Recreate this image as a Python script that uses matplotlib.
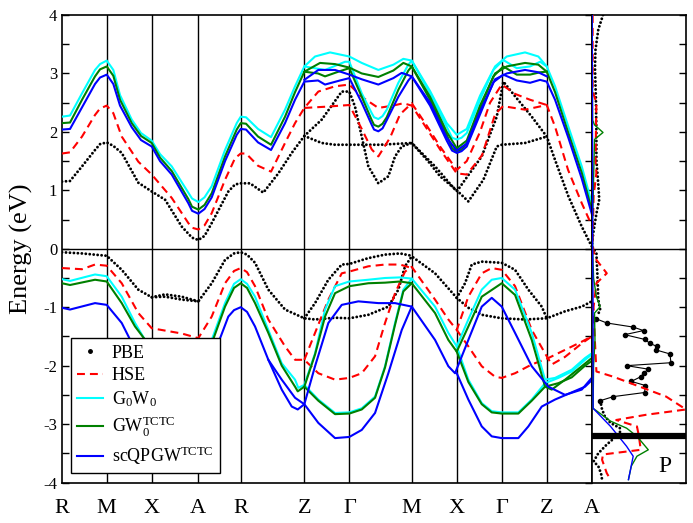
import numpy as np
import matplotlib
matplotlib.use('Agg')
import matplotlib.pyplot as plt
from matplotlib.lines import Line2D
from matplotlib.ticker import MultipleLocator

plt.rcParams['font.family'] = ['Liberation Serif', 'DejaVu Serif']
plt.rcParams['mathtext.fontset'] = 'custom'
plt.rcParams['mathtext.rm'] = 'Liberation Serif'
plt.rcParams['mathtext.it'] = 'Liberation Serif:italic'
plt.rcParams['axes.unicode_minus'] = False

### High-symmetry path (k-distance, arbitrary units)
kpts = [0, 44.7, 89.7, 136.3, 178.7, 242.3, 287.3, 349.7, 394.7, 439.7, 484.7, 529.7]
klabels = ['R', 'M', 'X', 'A', 'R', 'Z', '\u0393', 'M', 'X', '\u0393', 'Z', 'A']

### PBE bands (k, E)
pbe_c1 = [(0,1.15),(8,1.16),(20,1.41),(33,1.69),(38,1.79),(44.7,1.82),(51.3,1.76),(59.7,1.64),(76.3,1.13),
          (89.7,0.98),(103,0.84),(119.7,0.38),(130,0.19),(136.3,0.15),(142.5,0.22),(149.7,0.44),(166.3,0.98),
          (173,1.10),(178.7,1.12),(188,1.12),(201.3,0.96),(216.3,1.29),(229.7,1.64),(242.3,1.93),(259.7,2.21),
          (279.7,2.69),(287.3,2.69),(293,2.43),(299.7,1.92),(306.3,1.41),(316.3,1.12),(326.3,1.24),(333,1.58),
          (339.7,1.75),(349.7,1.81),(373,1.41),(394.7,0.98),(408,1.3),(419.7,1.58),(434.7,2.26),(441.3,2.86),
          (453,2.61),(469.7,2.26),(484.7,1.92),(493,1.52),(506.3,0.9),(519.7,0.38),(529.7,0.04)]
pbe_c2 = [(242.3,1.93),(259.7,1.81),(273,1.78),(287.3,1.78),(318,1.78),(349.7,1.81),(366,1.5),(378,1.24),
          (394.7,1.0),(406.3,0.81),(421.3,1.18),(434.7,1.75),(439.7,1.78),(463,1.81),(484.7,1.92)]
pbe_v1 = [(0,-0.06),(20,-0.08),(44.7,-0.12),(59.7,-0.36),(76.3,-0.70),(89.7,-0.83),(103,-0.82),(119.7,-0.87),
          (136.3,-0.90),(149.7,-0.59),(163,-0.19),(172,-0.08),(178.7,-0.06),(185,-0.10),(193,-0.24),(206.3,-0.70),
          (223,-1.04),(242.3,-1.19),(253,-1.21),(273,-1.18),(287.3,-1.19),(306.3,-1.13),(326.3,-0.99),(336.3,-0.70),
          (343,-0.30),(349.7,-0.13),(373,-0.42),(394.7,-0.84),(406.3,-1.01),(419.7,-1.13),(439.7,-1.19),(463,-1.21),
          (484.7,-1.19),(503,-1.07),(519.7,-0.99),(529.7,-0.90)]
pbe_v2 = [(242.3,-1.19),(253,-0.93),(266.3,-0.53),(279.7,-0.27),(287.3,-0.26),(306.3,-0.16),(323,-0.10),
          (338,-0.08),(349.7,-0.12)]
pbe_v3 = [(394.7,-0.84),(403,-0.59),(409.7,-0.27),(419.7,-0.22),(439.7,-0.24),(453,-0.36),(466.3,-0.70),
          (479.7,-0.99),(484.7,-1.19)]
pbe_v4 = [(89.7,-0.83),(103,-0.78),(119.7,-0.82),(136.3,-0.90)]

### HSE bands
hse_c1 = [(0,1.63),(8,1.65),(20,1.92),(33,2.29),(38,2.40),(44.7,2.45),(51.3,2.32),(59.7,1.92),(76.3,1.49),
          (89.7,1.27),(109.7,0.87),(126.3,0.44),(130,0.36),(136.3,0.33),(142.5,0.40),(149.7,0.61),(163,1.18),
          (173,1.55),(178.7,1.63),(184,1.63),(196,1.42),(209,1.32),(223,1.81),(233,2.15),(242.3,2.41),(256.3,2.69),
          (273,2.78),(287.3,2.81),(299.7,2.6),(316.3,2.41),(331,2.45),(341.3,2.49),(349.7,2.45),(365,2.05),
          (378,1.7),(394.7,1.29),(404.7,1.27),(420,1.6),(433,2.3),(441,2.44),(463,2.38),(484.7,2.46),(493,2.09),
          (506,1.35),(519.7,0.78),(529.7,0.4)]
hse_c2 = [(242.3,2.41),(263,2.43),(287.3,2.46),(299.7,2.05),(309.7,1.7),(316.3,1.58),(328,1.9),(338,2.3),
          (349.7,2.49),(365,2.1),(378,1.75),(394.7,1.35),(404.7,1.5),(418,2.0),(428,2.5),(439.7,2.81),(453,2.65),
          (468,2.55),(484.7,2.46)]
hse_v1 = [(0,-0.33),(20,-0.35),(33,-0.27),(44.7,-0.29),(59.7,-0.59),(76.3,-1.10),(89.7,-1.36),(103,-1.40),
          (119.7,-1.45),(136.3,-1.53),(149.7,-1.16),(163,-0.59),(172,-0.38),(178.7,-0.33),(185,-0.40),(193,-0.64),
          (206.3,-1.21),(223,-1.67),(233,-1.90),(242.3,-1.90),(256.3,-2.13),(273,-2.24),(287.3,-2.21),(299.7,-2.13),
          (313,-1.84),(323,-1.27),(333,-0.76),(343,-0.39),(349.7,-0.31),(373,-0.87),(386.3,-1.21),(394.7,-1.39),
          (406.3,-0.82),(419.7,-0.42),(429.7,-0.33),(439.7,-0.36),(453,-0.64),(469.7,-1.39),(484.7,-1.84),
          (489.7,-1.98),(503,-1.85),(519.7,-1.62),(529.7,-1.50)]
hse_v2 = [(242.3,-1.90),(253,-1.44),(266.3,-0.87),(279.7,-0.42),(287.3,-0.39),(306.3,-0.30),(323,-0.27),
          (338,-0.27),(349.7,-0.33)]
hse_v3 = [(394.7,-1.39),(406.3,-1.67),(419.7,-2.01),(433,-2.19),(439.7,-2.21),(453,-2.13),(469.7,-1.98),
          (486.3,-1.87),(503,-1.73),(519.7,-1.59),(529.7,-1.50)]

### G0W0 bands
g0w0_c1 = [(0,2.26),(8,2.28),(20,2.66),(33,3.06),(38,3.16),(44.7,3.22),(51.3,3.06),(58,2.63),(69.7,2.21),(79,1.98),
           (89.7,1.85),(98,1.62),(109.7,1.41),(126.3,0.96),(130,0.86),(136.3,0.80),(142.5,0.88),(149.7,1.07),
           (163,1.69),(174.7,2.15),(178.7,2.26),(184,2.25),(196,2.05),(209,1.91),(223,2.38),(233,2.78),(242.3,3.12),
           (263,3.06),(283,3.2),(287.3,3.2),(299.7,2.66),(309.7,2.32),(312,2.25),(316.3,2.22),(320.5,2.27),
           (324.7,2.38),(336.3,2.84),(346.3,3.15),(349.7,3.22),(368,2.66),(384.7,2.09),(390,1.9),(394.7,1.87),
           (399.5,1.9),(404.7,1.98),(418,2.55),(431.3,3.06),(441.3,3.23),(454.7,3.09),(468,3.12),(478,3.2),
           (484.7,3.12),(493,2.78),(506.3,2.09),(519.7,1.41),(529.7,0.78)]
g0w0_c2 = [(242.3,3.12),(253,3.29),(268,3.36),(287.3,3.29),(299.7,3.18),(316.3,3.06),(331.3,3.15),(341.3,3.25),
           (349.7,3.22),(368,2.70),(384.7,2.15),(394.7,1.95),(404.7,2.05),(418,2.62),(433,3.12),(444.7,3.29),
           (463,3.36),(476.3,3.29),(484.7,3.12)]
g0w0_v1 = [(0,-0.52),(8,-0.55),(33,-0.44),(44.7,-0.47),(59.7,-0.82),(73,-1.27),(83,-1.56),(95,-1.85),(115,-2.0),
           (126.3,-2.05),(136.3,-1.85),(141,-1.67),(149.7,-1.56),(163,-0.93),(172,-0.60),(178.7,-0.52),(185,-0.60),
           (193,-0.82),(206.3,-1.39),(219.7,-1.96),(233,-2.24),(236.3,-2.38),(242.3,-2.33),(253,-1.79),(263,-1.04),
           (273,-0.64),(287.3,-0.56),(306.3,-0.53),(323,-0.50),(338,-0.49),(349.7,-0.51),(373,-0.99),(386.3,-1.44),
           (394.7,-1.67),(406.3,-1.21),(419.7,-0.70),(429.7,-0.53),(439.7,-0.50),(453,-0.70),(469.7,-1.44),
           (483,-2.24),(493,-2.21),(509.7,-2.07),(523,-1.87),(529.7,-1.79)]
g0w0_v2 = [(242.3,-2.33),(256.3,-2.58),(273,-2.81),(287.3,-2.80),(299.7,-2.73),(313,-2.53),(323,-2.01),
           (333,-1.27),(341.3,-0.70),(349.7,-0.51)]
g0w0_v3 = [(394.7,-1.67),(406.3,-2.24),(419.7,-2.64),(429.7,-2.78),(439.7,-2.80),(456.3,-2.80),(469.7,-2.58),
           (483,-2.30),(496.3,-2.21),(509.7,-2.10),(523,-1.90),(529.7,-1.81)]

### GW0(TCTC) bands
gw0_c1 = [(0,2.15),(8,2.16),(20,2.55),(33,2.95),(38,3.07),(44.7,3.12),(51.3,2.96),(58,2.55),(69.7,2.15),(79,1.93),
          (89.7,1.81),(98,1.56),(109.7,1.33),(126.3,0.85),(130,0.72),(136.3,0.67),(142.5,0.75),(149.7,0.95),
          (163,1.58),(174.7,2.04),(178.7,2.15),(184,2.14),(196,1.92),(209,1.78),(223,2.26),(233,2.68),(242.3,3.03),
          (256,3.0),(263,2.95),(278,3.04),(287.3,3.09),(299.7,2.6),(309.7,2.2),(312,2.12),(316.3,2.09),(320.5,2.14),
          (324.7,2.25),(336.3,2.72),(346.3,3.05),(349.7,3.12),(368,2.55),(384.7,1.95),(390,1.72),(394.7,1.66),
          (399.5,1.7),(404.7,1.8),(418,2.4),(431.3,2.95),(441.3,3.12),(454.7,2.98),(468,2.98),(478,3.02),
          (484.7,3.03),(493,2.68),(506.3,1.98),(519.7,1.3),(529.7,0.67)]
gw0_c2 = [(242.3,3.03),(258,3.18),(273,3.16),(287.3,3.1),(299.7,3.0),(316.3,2.94),(331.3,3.05),(341.3,3.18),
          (349.7,3.12),(368,2.6),(384.7,2.0),(394.7,1.72),(404.7,1.85),(418,2.45),(433,3.0),(444.7,3.12),
          (463,3.18),(476.3,3.15),(484.7,3.03)]
gw0_v1 = [(0,-0.59),(8,-0.62),(33,-0.53),(44.7,-0.56),(59.7,-0.93),(73,-1.33),(85,-1.6),(97,-1.9),(115,-2.1),
          (126.3,-2.15),(136.3,-1.95),(141,-1.72),(149.7,-1.62),(163,-0.99),(172,-0.67),(178.7,-0.59),(185,-0.67),
          (193,-0.93),(206.3,-1.44),(219.7,-2.0),(233,-2.36),(235.7,-2.44),(242.3,-2.36),(253,-1.81),(263,-1.16),
          (273,-0.76),(287.3,-0.64),(306.3,-0.59),(323,-0.58),(338,-0.56),(349.7,-0.59),(373,-1.10),(386.3,-1.56),
          (394.7,-1.76),(406.3,-1.33),(419.7,-0.82),(439.7,-0.59),(453,-0.79),(469.7,-1.56),(483,-2.36),
          (489.7,-2.41),(503,-2.24),(519.7,-2.01),(529.7,-1.87)]
gw0_v2 = [(242.3,-2.36),(256.3,-2.6),(273,-2.83),(287.3,-2.82),(299.7,-2.75),(313,-2.55),(323,-2.03),
          (333,-1.3),(341.3,-0.73),(349.7,-0.59)]
gw0_v3 = [(394.7,-1.76),(406.3,-2.28),(419.7,-2.66),(429.7,-2.80),(439.7,-2.82),(456.3,-2.82),(469.7,-2.6),
          (483,-2.36),(496.3,-2.3),(509.7,-2.2),(523,-2.0),(529.7,-1.92)]

### scQPGW(TCTC) bands
qp_c1 = [(0,2.04),(8,2.05),(20,2.42),(33,2.82),(38,2.93),(44.7,2.98),(51.3,2.82),(58,2.45),(69.7,2.08),(79,1.86),
         (89.7,1.75),(98,1.50),(109.7,1.27),(126.3,0.78),(130,0.65),(136.3,0.60),(142.5,0.68),(149.7,0.88),
         (163,1.5),(174.7,1.95),(178.7,2.05),(184,2.04),(196,1.82),(209,1.69),(223,2.15),(233,2.55),(242.3,2.86),
         (256,2.88),(263,2.81),(278,2.88),(287.3,2.92),(299.7,2.5),(309.7,2.12),(312,2.04),(316.3,2.01),
         (320.5,2.06),(324.7,2.2),(336.3,2.6),(346.3,2.88),(349.7,2.95),(368,2.45),(384.7,1.85),(390,1.68),
         (394.7,1.64),(399.5,1.67),(404.7,1.75),(418,2.3),(431.3,2.85),(441.3,2.98),(454.7,2.88),(468,2.84),
         (478,2.89),(484.7,2.86),(493,2.55),(506.3,1.9),(519.7,1.2),(529.7,0.6)]
qp_c2 = [(242.3,2.89),(256.3,3.06),(273,3.06),(287.3,2.98),(299.7,2.9),(316.3,2.81),(331.3,2.92),(339.7,3.01),
         (349.7,2.95),(368,2.5),(384.7,1.9),(394.7,1.68),(404.7,1.8),(418,2.35),(433,2.9),(444.7,3.0),(463,3.06),
         (476.3,3.02),(484.7,2.95)]
qp_v1 = [(0,-1.01),(8,-1.04),(33,-0.93),(44.7,-0.96),(59.7,-1.27),(69.7,-1.61),(80,-2.0),(95,-2.3),(115,-2.45),
         (136.3,-2.3),(149.7,-1.95),(156.3,-1.61),(166.3,-1.16),(172,-1.05),(178.7,-1.0),(185,-1.08),(193,-1.33),
         (206.3,-1.90),(219.7,-2.41),(229.7,-2.70),(235.7,-2.75),(242.3,-2.66),(253,-2.01),(266.3,-1.27),
         (279.7,-0.96),(296.3,-0.90),(316.3,-0.93),(333,-0.93),(349.7,-0.99),(373,-1.56),(386.3,-2.01),(393,-2.13),
         (406.3,-1.56),(419.7,-0.99),(429.7,-0.84),(439.7,-0.99),(453,-1.44),(469.7,-2.01),(486.3,-2.36),
         (503,-2.50),(519.7,-2.41),(529.7,-2.21)]
qp_v2 = [(206.3,-1.90),(219.7,-2.24),(233,-2.55),(242.3,-2.66),(256.3,-2.98),(273,-3.24),(287.3,-3.22),
         (299.7,-3.10),(313,-2.81),(326.3,-2.13),(339.7,-1.39),(349.7,-0.99)]
qp_v3 = [(394.7,-2.13),(406.3,-2.58),(419.7,-3.04),(429.7,-3.21),(439.7,-3.24),(456.3,-3.24),(466.3,-3.04),
         (479.7,-2.70),(493,-2.58),(508,-2.47),(523,-2.36),(529.7,-2.25)]

### P projected DOS (E, DOS) -- right panel
pdos_pbe_hi = [(4.0,0.12),(3.75,0.07),(3.4,0.04),(3.1,0.035),(2.55,0.045),(2.0,0.05),(1.52,0.05),(1.1,0.07),
               (0.84,0.08),(0.6,0.05),(0.27,0.017),(0.04,0.0),(-0.07,0.05),(-0.42,0.06),(-0.87,0.07),(-1.04,0.09),
               (-1.15,0.06)]
pdos_pbe_mid = [(-1.2,0.05),(-1.27,0.16),(-1.34,0.44),(-1.40,0.55),(-1.47,0.35),(-1.55,0.56),(-1.62,0.62),
                (-1.67,0.69),(-1.73,0.68),(-1.80,0.83),(-1.95,0.84),(-2.0,0.37),(-2.06,0.60),(-2.13,0.55),
                (-2.19,0.52),(-2.27,0.42),(-2.34,0.57),(-2.46,0.56),(-2.53,0.23),(-2.6,0.09)]
pdos_pbe_lo = [(-2.6,0.09),(-2.67,0.10),(-2.75,0.11),(-2.87,0.14),(-2.98,0.20),(-3.07,0.30),(-3.15,0.30),
               (-3.21,0.26),(-3.35,0.16),(-3.5,0.07),(-3.64,0.02),(-3.72,0.07),(-3.85,0.10),(-3.95,0.11)]
pdos_hse = [(4.0,0.01),(2.7,0.01),(2.5,0.05),(2.0,0.045),(1.5,0.04),(1.3,0.05),(0.9,0.02),(0.1,0.01),(-0.05,0.02),
            (-0.19,0.05),(-0.42,0.16),(-0.59,0.05),(-1.0,0.02),(-1.44,0.03),(-2.1,0.05),(-2.19,0.23),(-2.36,0.51),
            (-2.53,0.79),(-2.75,1.0),(-2.84,0.58),(-2.93,0.26),(-3.04,0.48),(-3.2,0.5),(-3.44,0.52),(-3.52,0.12),
            (-3.61,0.11),(-3.84,0.16),(-3.95,0.2)]
pdos_gw0 = [(4.0,0.005),(2.2,0.01),(2.12,0.03),(1.99,0.12),(1.87,0.03),(0.5,0.01),(0.0,0.01),(-0.5,0.02),
            (-0.82,0.05),(-0.99,0.09),(-1.1,0.03),(-1.56,0.035),(-2.0,0.02),(-2.73,0.015),(-2.95,0.2),(-3.07,0.37),
            (-3.21,0.48),(-3.44,0.6),(-3.55,0.48),(-3.72,0.42),(-3.95,0.39)]
pdos_qp = [(4.0,0.005),(1.0,0.01),(0.0,0.01),(-1.0,0.015),(-2.73,0.015),(-3.04,0.2),(-3.38,0.37),(-3.55,0.44),
           (-3.95,0.39)]


def draw_bands(ax, bands, **kw):
    for b in bands:
        b = np.asarray(b)
        ax.plot(b[:, 0], b[:, 1], **kw)


def draw_pdos(ax, pd, **kw):
    pd = np.asarray(pd)
    ax.plot(pd[:, 1], pd[:, 0], **kw)


def main():
    fig = plt.figure(figsize=(6.93, 5.23), dpi=100)
    ax = fig.add_axes([0.0895, 0.0774, 0.7644, 0.8939])
    ax2 = fig.add_axes([0.8538, 0.0774, 0.1361, 0.8939])

    dots = dict(color='k', lw=2.1, ls=(0, (0.01, 1.35)), dash_capstyle='round', zorder=3)
    dash = dict(color='r', lw=1.5, ls=(0, (3.8, 2.4)), zorder=3)

    ### Bands
    draw_bands(ax, [pbe_c1, pbe_c2, pbe_v1, pbe_v2, pbe_v3, pbe_v4], **dots)
    draw_bands(ax, [hse_c1, hse_c2, hse_v1, hse_v2, hse_v3], **dash)
    draw_bands(ax, [g0w0_c1, g0w0_c2, g0w0_v1, g0w0_v2, g0w0_v3], color='cyan', lw=1.5, zorder=3)
    draw_bands(ax, [gw0_c1, gw0_c2, gw0_v1, gw0_v2, gw0_v3], color='green', lw=1.5, zorder=3)
    draw_bands(ax, [qp_c1, qp_c2, qp_v1, qp_v2, qp_v3], color='blue', lw=1.5, zorder=3)

    for k in kpts[1:-1]:
        ax.axvline(k, color='k', lw=1.0, zorder=1)
    ax.axhline(0., color='k', lw=1.0, zorder=1)

    ax.set_xlim(kpts[0], kpts[-1])
    ax.set_ylim(-4, 4)
    ax.set_xticks(kpts)
    ax.set_xticklabels(klabels)
    ax.tick_params(axis='x', length=0, pad=12, labelsize=16)
    ax.yaxis.set_major_locator(MultipleLocator(1))
    ax.yaxis.set_minor_locator(MultipleLocator(0.5))
    ax.tick_params(axis='y', which='both', direction='in', left=True, right=True, length=5, width=1,
                   labelsize=12)
    ax.set_ylabel('Energy (eV)', fontsize=19)
    ax.yaxis.set_label_coords(-0.055, 0.5)
    for sp in ax.spines.values():
        sp.set_linewidth(1.2)

    ### Legend
    hnd = [Line2D([], [], color='k', marker='o', ms=2.5, ls='none'),
           Line2D([], [], **dash),
           Line2D([], [], color='cyan', lw=1.5),
           Line2D([], [], color='green', lw=1.5),
           Line2D([], [], color='blue', lw=1.5)]
    labs = ['PBE', 'HSE', r'G$_0$W$_0$', r'GW$_0^{\rm TCTC}$', r'scQPGW$^{\rm TCTC}$']
    leg = ax.legend(hnd, labs, loc='lower left', bbox_to_anchor=(0.017, 0.02), borderaxespad=0,
                    fontsize=13, frameon=True, fancybox=False, framealpha=1, edgecolor='k',
                    handlelength=1.4, handletextpad=0.5, labelspacing=0.3, borderpad=0.35)
    leg.get_frame().set_linewidth(1.0)
    leg.set_zorder(10)

    ### PDOS panel
    draw_pdos(ax2, pdos_pbe_hi, **dots)
    draw_pdos(ax2, pdos_pbe_lo, **dots)
    draw_pdos(ax2, pdos_pbe_mid, color='k', lw=0.8, marker='o', ms=3, zorder=3)
    draw_pdos(ax2, pdos_hse, **dash)
    draw_pdos(ax2, pdos_gw0, color='green', lw=1.0, zorder=3)
    draw_pdos(ax2, pdos_qp, color='blue', lw=1.0, zorder=3)
    ax2.axhline(0., color='k', lw=1.0, zorder=1)
    ax2.axhline(-3.2, color='k', lw=4.5, zorder=4)
    ax2.set_xlim(0, 1)
    ax2.set_ylim(-4, 4)
    ax2.set_xticks([])
    ax2.yaxis.set_major_locator(MultipleLocator(0.5))
    ax2.tick_params(axis='y', which='both', direction='in', left=False, right=True, labelleft=False,
                    length=5, width=1)
    for sp in ax2.spines.values():
        sp.set_linewidth(1.2)
    ax2.text(0.78, -3.73, 'P', fontsize=17, ha='center', va='center')

    fig.savefig('out.png', dpi=100)
    return


if __name__ == "__main__":
    main()
